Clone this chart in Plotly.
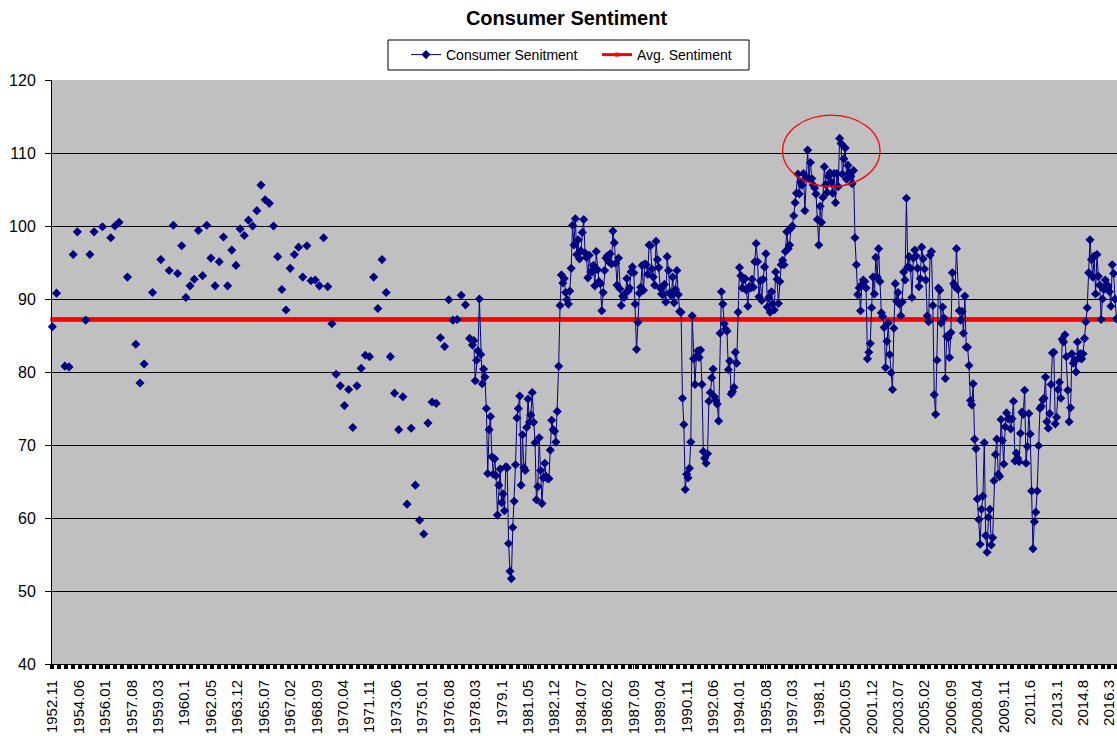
import plotly.graph_objects as go

title_text = "Consumer Sentiment"
series_name = "Consumer Senitment"
avg_name = "Avg. Sentiment"

# Early (quarterly / irregular) observations: "year.month" -> value
early_dates = [
    "1952.11", "1953.02", "1953.08", "1953.11", "1954.02", "1954.05", "1954.11",
    "1955.02", "1955.05", "1955.11", "1956.05", "1956.08", "1956.11", "1957.05",
    "1957.11", "1958.02", "1958.05", "1958.11", "1959.05", "1959.11", "1960.02",
    "1960.05", "1960.08", "1960.11", "1961.02", "1961.05", "1961.08", "1961.11",
    "1962.02", "1962.05", "1962.08", "1962.11", "1963.02", "1963.05", "1963.08",
    "1963.11", "1964.02", "1964.05", "1964.08", "1964.11", "1965.02", "1965.05",
    "1965.08", "1965.11", "1966.02", "1966.05", "1966.08", "1966.11", "1967.02",
    "1967.05", "1967.08", "1967.11", "1968.02", "1968.05", "1968.08", "1968.11",
    "1969.02", "1969.05", "1969.08", "1969.11", "1970.02", "1970.05", "1970.08",
    "1970.11", "1971.02", "1971.05", "1971.08", "1971.11", "1972.02", "1972.05",
    "1972.08", "1972.11", "1973.02", "1973.05", "1973.08", "1973.11", "1974.02",
    "1974.05", "1974.08", "1974.11", "1975.02", "1975.05", "1975.08", "1975.11",
    "1976.02", "1976.05", "1976.08", "1976.11", "1977.02", "1977.05", "1977.08",
    "1977.11",
]
early_values = [
    86.2, 90.8, 80.8, 80.7, 96.1, 99.2, 87.1,
    96.1, 99.2, 99.9, 98.4, 100.0, 100.5, 93.0,
    83.8, 78.5, 81.1, 90.9, 95.4, 93.9, 100.1,
    93.5, 97.3, 90.2, 91.8, 92.7, 99.4, 93.2,
    100.1, 95.6, 91.8, 95.1, 98.5, 91.8, 96.7,
    94.6, 99.6, 98.7, 100.8, 100.0, 102.1, 105.6,
    103.6, 103.1, 100.0, 95.8, 91.3, 88.5, 94.2,
    96.1, 97.1, 93.0, 97.3, 92.5, 92.6, 91.8,
    98.4, 91.7, 86.6, 79.7, 78.1, 75.4, 77.6,
    72.4, 78.1, 80.5, 82.3, 82.1, 93.0, 88.7,
    95.4, 90.9, 82.1, 77.1, 72.1, 76.6, 61.9,
    72.3, 64.5, 59.7, 57.8, 73.0, 75.9, 75.7,
    84.7, 83.5, 89.9, 87.1, 87.2, 90.5, 89.2,
    84.6,
]

# Monthly observations from 1978.01
sent_1978_1983 = [
    83.7, 84.3, 78.8, 81.6, 82.9, 90.0, 82.4, 78.4, 80.4, 79.3, 75.0, 66.1,
    72.1, 73.9, 68.4, 66.0, 68.1, 65.8, 60.4, 64.5, 66.7, 62.1, 63.3, 61.0,
    67.0, 66.9, 56.5, 52.7, 51.7, 58.7, 62.3, 67.3, 73.7, 75.0, 76.7, 64.5,
    71.4, 66.9, 66.5, 72.4, 76.3, 73.1, 74.1, 77.2, 73.1, 70.3, 62.5, 64.3,
    71.0, 66.5, 62.0, 65.5, 67.5, 65.7, 65.4, 65.4, 69.3, 73.4, 72.1, 71.9,
    70.4, 74.6, 80.8, 89.1, 93.3, 92.2, 92.8, 90.9, 89.9, 89.3, 91.1, 94.2,
]
sent_1984_1989 = [
    100.1, 97.4, 101.0, 96.1, 98.1, 95.5, 96.6, 99.1, 100.9, 96.3, 95.7, 92.9,
    96.0, 93.7, 93.7, 94.6, 91.8, 96.5, 94.0, 92.4, 92.1, 88.4, 90.9, 93.9,
    95.6, 95.9, 95.1, 96.2, 94.8, 99.3, 97.7, 94.9, 91.9, 95.6, 91.4, 89.1,
    90.4, 90.2, 90.8, 92.8, 91.1, 91.5, 93.7, 94.4, 93.6, 89.3, 83.1, 86.8,
    90.8, 91.6, 94.6, 91.2, 94.8, 94.7, 93.4, 97.4, 97.3, 94.1, 93.0, 91.9,
    97.9, 95.4, 94.3, 91.5, 90.7, 90.6, 92.0, 89.6, 95.8, 93.9, 90.9, 90.5,
]
sent_1990_1995 = [
    93.0, 89.5, 91.3, 93.9, 90.6, 88.3, 88.2, 76.4, 72.8, 63.9, 66.0, 65.5,
    66.8, 70.4, 87.7, 81.8, 78.3, 82.1, 82.9, 82.0, 83.0, 78.3, 69.1, 68.2,
    67.5, 68.8, 76.0, 77.2, 79.2, 80.4, 76.6, 76.1, 75.6, 73.3, 85.3, 91.0,
    89.3, 86.6, 85.9, 85.6, 80.3, 81.5, 77.0, 77.3, 77.9, 82.7, 81.2, 88.2,
    94.3, 93.2, 91.5, 92.6, 92.8, 91.2, 89.0, 91.7, 91.5, 92.7, 91.6, 95.1,
    97.6, 95.1, 90.3, 92.5, 89.8, 92.7, 94.4, 96.2, 88.9, 90.2, 88.2, 91.0,
]
sent_1996_2001 = [
    89.3, 88.5, 93.7, 92.7, 89.4, 92.4, 94.7, 95.3, 94.7, 96.5, 99.2, 96.9,
    97.4, 99.7, 100.0, 101.4, 103.2, 104.5, 107.1, 104.4, 106.0, 105.6, 107.2, 102.1,
    106.6, 110.4, 106.5, 108.7, 106.5, 105.6, 105.2, 104.4, 100.9, 97.4, 102.7, 100.5,
    103.9, 108.1, 105.7, 104.6, 106.8, 107.3, 106.0, 104.5, 107.2, 103.2, 107.2, 105.4,
    112.0, 111.3, 107.1, 109.2, 110.7, 106.4, 108.3, 107.3, 106.8, 105.8, 107.6, 98.4,
    94.7, 90.6, 91.5, 88.4, 92.0, 92.6, 92.4, 91.5, 81.8, 82.7, 83.9, 88.8,
]
sent_2002_2007 = [
    93.0, 90.7, 95.7, 93.0, 96.9, 92.4, 88.1, 87.6, 86.1, 80.6, 84.2, 86.7,
    82.4, 79.9, 77.6, 86.0, 92.1, 89.7, 90.9, 89.3, 87.7, 89.6, 93.7, 92.6,
    103.8, 94.4, 95.8, 94.2, 90.2, 95.6, 96.7, 95.9, 94.2, 91.7, 92.8, 97.1,
    95.5, 94.1, 92.6, 87.7, 86.9, 96.0, 96.5, 89.1, 76.9, 74.2, 81.6, 91.5,
    91.2, 86.7, 88.9, 87.4, 79.1, 84.9, 84.7, 82.0, 85.4, 93.6, 92.1, 91.7,
    96.9, 91.3, 88.4, 87.1, 88.3, 85.3, 90.4, 83.4, 83.4, 80.9, 76.1, 75.5,
]
sent_2008_2013 = [
    78.4, 70.8, 69.5, 62.6, 59.8, 56.4, 61.2, 63.0, 70.3, 57.6, 55.3, 60.1,
    61.2, 56.3, 57.3, 65.1, 68.7, 70.8, 66.0, 65.7, 73.5, 70.6, 67.4, 72.5,
    74.4, 73.6, 73.6, 72.2, 73.6, 76.0, 67.8, 68.9, 68.2, 67.7, 71.6, 74.5,
    74.2, 77.5, 67.5, 69.8, 74.3, 71.5, 63.7, 55.8, 59.5, 60.8, 63.7, 69.9,
    75.0, 75.3, 76.2, 76.4, 79.3, 73.2, 72.3, 74.3, 78.3, 82.6, 82.7, 72.9,
    73.8, 77.6, 78.6, 76.4, 84.5, 84.1, 85.1, 82.1, 77.5, 73.2, 75.1, 82.5,
]
sent_2014_2016 = [
    81.2, 81.6, 80.0, 84.1, 81.9, 82.5, 81.8, 82.5, 84.6, 86.9, 88.8, 93.6,
    98.1, 95.4, 93.0, 95.9, 90.7, 96.1, 93.1, 91.9, 87.2, 90.0, 91.3, 92.6,
    92.0, 91.7, 91.0, 89.0, 94.7, 93.5, 90.0, 87.3,
]

avg_sentiment = 87.2

tick_labels = [
    "1952.11", "1954.06", "1956.01", "1957.08", "1959.03", "1960.1", "1962.05",
    "1963.12", "1965.07", "1967.02", "1968.09", "1970.04", "1971.11", "1973.06",
    "1975.01", "1976.08", "1978.03", "1979.1", "1981.05", "1982.12", "1984.07",
    "1986.02", "1987.09", "1989.04", "1990.11", "1992.06", "1994.01", "1995.08",
    "1997.03", "1998.1", "2000.05", "2001.12", "2003.07", "2005.02", "2006.09",
    "2008.04", "2009.11", "2011.6", "2013.1", "2014.8", "2016.3",
]
label_step = 19  # months between labels


def month_index(year, month):
    return (year - 1952) * 12 + (month - 11)


monthly_values = (sent_1978_1983 + sent_1984_1989 + sent_1990_1995 +
                  sent_1996_2001 + sent_2002_2007 + sent_2008_2013 + sent_2014_2016)
monthly_start = month_index(1978, 1)
n_months = monthly_start + len(monthly_values)

values = [None] * n_months
for d, v in zip(early_dates, early_values):
    yy, mm = d.split(".")
    values[month_index(int(yy), int(mm))] = v
for k, v in enumerate(monthly_values):
    values[monthly_start + k] = v

x_idx = list(range(n_months))
avg_line = [avg_sentiment] * n_months

FONT = "Liberation Sans, Arial, sans-serif"
W, H = 1117, 736
# plot area in window pixels: x 52..1117, y 80..664
ML, MT, MR, MB = 52, 80, 0, 72
PW, PH = W - ML - MR, H - MT - MB


def px_to_paper_x(px):
    return (px - ML) / PW


def px_to_paper_y(py):
    return (H - MB - py) / PH


fig = go.Figure()
fig.add_trace(go.Scatter(
    x=x_idx, y=avg_line, name=avg_name, mode="lines+markers",
    line=dict(color="#FF0000", width=3),
    marker=dict(symbol="square", size=4, color="#FF0000"),
    legendrank=2, cliponaxis=False, hoverinfo="skip",
))
fig.add_trace(go.Scatter(
    x=x_idx, y=values, name=series_name, mode="lines+markers",
    connectgaps=False,
    line=dict(color="#000080", width=1),
    marker=dict(symbol="diamond", size=7, color="#000080"),
    legendrank=1, cliponaxis=False,
))

# red ellipse highlighting the late-1990s peak
fig.add_shape(type="circle", xref="x", yref="y",
              x0=month_index(1996, 8), x1=month_index(2002, 6),
              y0=105.4, y1=115.2,
              line=dict(color="#FF0000", width=1.3), layer="above")

# legend frame
fig.add_shape(type="rect", xref="paper", yref="paper",
              x0=px_to_paper_x(388), x1=px_to_paper_x(749),
              y0=px_to_paper_y(70), y1=px_to_paper_y(40),
              line=dict(color="black", width=1), fillcolor="white", layer="below")

fig.update_layout(
    width=W, height=H,
    margin=dict(l=ML, r=MR, t=MT, b=MB, pad=0, autoexpand=False),
    paper_bgcolor="white", plot_bgcolor="#C0C0C0",
    font=dict(family=FONT, color="black"),
    title=dict(text="<b>" + title_text + "</b>", xref="container", yref="container",
               x=566.5 / W, xanchor="center", y=1 - 18 / H, yanchor="middle",
               font=dict(size=20, family=FONT, color="black")),
    legend=dict(orientation="h", xref="container", yref="container",
                x=406 / W, xanchor="left", y=1 - 55 / H, yanchor="middle",
                borderwidth=0, bgcolor="rgba(0,0,0,0)",
                entrywidth=146, entrywidthmode="pixels",
                font=dict(size=14, family=FONT, color="black"),
                traceorder="normal"),
    showlegend=True,
)

fig.update_xaxes(
    range=[-0.25, 765.4], tickmode="array", automargin=False,
    tickvals=[label_step * k for k in range(len(tick_labels))],
    ticktext=tick_labels, tickangle=-90, ticklabeloverflow="allow",
    ticks="outside", ticklen=4, tickwidth=1, tickcolor="black",
    tickfont=dict(size=15, family=FONT, color="black"),
    showgrid=False, zeroline=False, showline=True, linecolor="black", linewidth=1,
    minor=dict(ticks="outside", ticklen=4, tickwidth=4, tickcolor="black",
               tickmode="linear", tick0=0, dtick=5, showgrid=False),
    ticklabelstandoff=5,
)
fig.update_yaxes(
    range=[40, 120], dtick=10, tick0=40, automargin=False,
    showgrid=True, gridcolor="black", gridwidth=1,
    ticks="outside", ticklen=6, tickwidth=1, tickcolor="black",
    tickfont=dict(size=16, family=FONT, color="black"),
    zeroline=False, showline=True, linecolor="black", linewidth=1,
    ticklabelstandoff=6,
)

fig.write_html(
    "out.html",
    config={"displayModeBar": False},
    post_script="document.body.style.margin='0';document.body.style.overflow='hidden';",
)
